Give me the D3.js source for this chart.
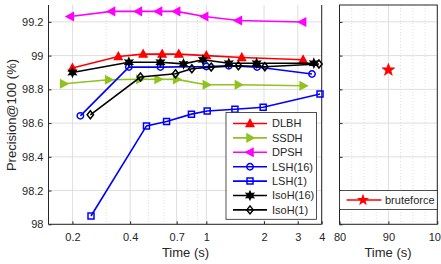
<!DOCTYPE html>
<html><head><meta charset="utf-8">
<script src="https://cdn.jsdelivr.net/npm/d3@7"></script>
<style>
html,body{margin:0;padding:0;background:#fff;}
svg{display:block;font-family:"Liberation Sans",Arial,sans-serif;}
</style></head><body>
<svg id="c" width="441" height="264"></svg>
<script>
// ---- data ----
const dlbhT = [0.2, 0.347, 0.468, 0.588, 0.718, 1.0, 1.53, 3.2];
const dlbhV = [98.926, 98.995, 99.009, 99.009, 99.009, 99.0, 98.989, 98.975];
const ssdhT = [0.18, 0.309, 0.45, 0.56, 0.70, 1.0, 1.47, 3.2];
const ssdhV = [98.833, 98.857, 98.86, 98.86, 98.859, 98.827, 98.827, 98.821];
const dpshT = [0.195, 0.32, 0.442, 0.563, 0.70, 0.98, 1.47, 3.18];
const dpshV = [99.232, 99.262, 99.262, 99.262, 99.262, 99.232, 99.208, 99.199];
const lsh16T = [0.22, 0.394, 0.576, 1.0, 1.31, 1.84, 3.56];
const lsh16V = [98.643, 98.932, 98.932, 98.935, 98.94, 98.932, 98.891];
const lsh1T = [0.25, 0.487, 0.62, 0.836, 1.01, 1.41, 1.98, 3.92];
const lsh1V = [98.049, 98.583, 98.609, 98.653, 98.672, 98.682, 98.694, 98.772];
const iso16T = [0.2, 0.394, 0.576, 0.76, 0.96, 1.31, 1.83, 3.64];
const iso16V = [98.9, 98.961, 98.961, 98.951, 98.975, 98.955, 98.955, 98.955];
const iso1T = [0.248, 0.453, 0.69, 0.84, 1.06, 1.47, 2.02, 3.87];
const iso1V = [98.649, 98.873, 98.892, 98.922, 98.932, 98.94, 98.934, 98.95];
const bruteT = [90];
const bruteV = [98.915];
const seriesNames = ["DLBH","SSDH","DPSH","LSH(16)","LSH(1)","IsoH(16)","IsoH(1)"];
const xTicksL = [0.2, 0.4, 0.7, 1, 2, 3, 4];
const xTicksR = [80, 90, 100];
const yTicks = [98, 98.2, 98.4, 98.6, 98.8, 99, 99.2];

// ---- styles ----
const series = [
  {name:"DLBH", t:dlbhT, v:dlbhV, color:"#ff0000", marker:"triUp", fill:true},
  {name:"SSDH", t:ssdhT, v:ssdhV, color:"#8fc31f", marker:"triRight", fill:true},
  {name:"DPSH", t:dpshT, v:dpshV, color:"#ff00ff", marker:"triLeft", fill:true},
  {name:"LSH(16)", t:lsh16T, v:lsh16V, color:"#0000ff", marker:"circle", fill:false},
  {name:"LSH(1)", t:lsh1T, v:lsh1V, color:"#0000ff", marker:"square", fill:false},
  {name:"IsoH(16)", t:iso16T, v:iso16V, color:"#000000", marker:"hex", fill:true},
  {name:"IsoH(1)", t:iso1T, v:iso1V, color:"#000000", marker:"diamond", fill:false}
];

const svg = d3.select("#c");
const txt = "#262626", axc = "#262626", gridc = "#dedede";

const L = {l:48.5, r:321.7, t:5, b:224.3};
const R = {l:339.5, r:437.3, t:5, b:224.3};
const x = d3.scaleLog().domain([0.15, 4]).range([L.l, L.r]);
const xr = d3.scaleLinear().domain([80, 100]).range([R.l, R.r]);
const y = d3.scaleLinear().domain([98, 99.3]).range([L.b, L.t]);

function markerPath(type, s){
  if(type==="triUp"){ return `M0,${-s}L${s*0.95},${s*0.75}L${-s*0.95},${s*0.75}Z`; }
  if(type==="triRight"){ return `M${s},0L${-s*0.75},${s*0.95}L${-s*0.75},${-s*0.95}Z`; }
  if(type==="triLeft"){ return `M${-s},0L${s*0.75},${s*0.95}L${s*0.75},${-s*0.95}Z`; }
  if(type==="circle"){ const r=s*0.8; return `M${r},0A${r},${r} 0 1,1 ${-r},0A${r},${r} 0 1,1 ${r},0Z`; }
  if(type==="square"){ const h=s*0.75; return `M${-h},${-h}H${h}V${h}H${-h}Z`; }
  if(type==="diamond"){ return `M0,${-s}L${s*0.8},0L0,${s}L${-s*0.8},0Z`; }
  if(type==="hex"){
    let p=""; for(let i=0;i<12;i++){ const a=Math.PI/6*i - Math.PI/2; const r = i%2===0 ? s : s*0.5; p += (i?"L":"M")+(r*Math.cos(a)).toFixed(2)+","+(r*Math.sin(a)).toFixed(2);} return p+"Z";
  }
  if(type==="star5"){
    let p=""; for(let i=0;i<10;i++){ const a=Math.PI/5*i - Math.PI/2; const r = i%2===0 ? s : s*0.4; p += (i?"L":"M")+(r*Math.cos(a)).toFixed(2)+","+(r*Math.sin(a)).toFixed(2);} return p+"Z";
  }
}

// ---- grids ----
function minorLog(){
  const out=[]; [0.1,1].forEach(d=>{ for(let k=1;k<10;k++){ const v=d*k; if(v>0.15 && v<4 && !xTicksL.includes(+v.toFixed(3))) out.push(v);} });
  return out;
}
const gL = svg.append("g");
gL.selectAll(".mg").data(minorLog()).enter().append("line")
  .attr("x1",d=>x(d)).attr("x2",d=>x(d)).attr("y1",L.t).attr("y2",L.b)
  .attr("stroke",gridc).attr("stroke-dasharray","1,2").attr("stroke-width",1);
gL.selectAll(".xg").data(xTicksL).enter().append("line")
  .attr("x1",d=>x(d)).attr("x2",d=>x(d)).attr("y1",L.t).attr("y2",L.b)
  .attr("stroke",gridc).attr("stroke-width",1);
gL.selectAll(".yg").data(yTicks).enter().append("line")
  .attr("x1",L.l).attr("x2",L.r).attr("y1",d=>y(d)).attr("y2",d=>y(d))
  .attr("stroke",gridc).attr("stroke-width",1);

const gR = svg.append("g");
gR.selectAll(".mg").data([82.5,85,87.5,92.5,95,97.5]).enter().append("line")
  .attr("x1",d=>xr(d)).attr("x2",d=>xr(d)).attr("y1",R.t).attr("y2",R.b)
  .attr("stroke",gridc).attr("stroke-dasharray","1,2");
gR.selectAll(".xg").data(xTicksR).enter().append("line")
  .attr("x1",d=>xr(d)).attr("x2",d=>xr(d)).attr("y1",R.t).attr("y2",R.b)
  .attr("stroke",gridc);
gR.selectAll(".yg").data(yTicks).enter().append("line")
  .attr("x1",R.l).attr("x2",R.r).attr("y1",d=>y(d)).attr("y2",d=>y(d))
  .attr("stroke",gridc);

// ---- axes ----
const axL = svg.append("g").attr("transform",`translate(0,${L.b})`)
  .call(d3.axisBottom(x).tickValues(xTicksL).tickSize(-3).tickPadding(9).tickFormat(d=>String(d)));
const axLy = svg.append("g").attr("transform",`translate(${L.l},0)`)
  .call(d3.axisLeft(y).tickValues(yTicks).tickSize(-3).tickPadding(5).tickFormat(d=>String(+d.toFixed(1))));
const axR = svg.append("g").attr("transform",`translate(0,${R.b})`)
  .call(d3.axisBottom(xr).tickValues(xTicksR).tickSize(-3).tickPadding(9).tickFormat(d=>String(d)));
const axRy = svg.append("g").attr("transform",`translate(${R.l},0)`)
  .call(d3.axisLeft(y).tickValues(yTicks).tickSize(-3).tickFormat(""));
[axL,axLy,axR,axRy].forEach(a=>{
  a.select(".domain").remove();
  a.selectAll("line").attr("stroke",axc);
  a.selectAll("text").attr("fill",txt).style("font-size","11px").style("font-family","'Liberation Sans',Arial,sans-serif");
});
// frames
svg.append("line").attr("x1",L.l).attr("x2",L.l).attr("y1",L.t).attr("y2",L.b).attr("stroke",axc);
svg.append("line").attr("x1",L.l).attr("x2",L.r).attr("y1",L.b).attr("y2",L.b).attr("stroke",axc);
svg.append("line").attr("x1",L.r).attr("x2",L.r).attr("y1",L.t).attr("y2",L.b).attr("stroke",axc);
svg.append("rect").attr("x",R.l).attr("y",R.t).attr("width",R.r-R.l).attr("height",R.b-R.t)
  .attr("fill","none").attr("stroke",axc);

// ---- lines & markers ----
const line = d3.line().x(d=>x(d[0])).y(d=>y(d[1]));
series.forEach(s=>{
  const pts = s.t.map((t,i)=>[t,s.v[i]]);
  const g = svg.append("g");
  g.append("path").datum(pts).attr("d",line).attr("fill","none")
    .attr("stroke",s.color).attr("stroke-width",1.6);
  g.selectAll("path.m").data(pts).enter().append("path").attr("class","m")
    .attr("transform",d=>`translate(${x(d[0])},${y(d[1])})`)
    .attr("d",markerPath(s.marker,4))
    .attr("fill",s.fill? s.color : "none").attr("stroke",s.color).attr("stroke-width",1.5);
});
// bruteforce
svg.selectAll("path.bf").data(bruteT.map((t,i)=>[t,bruteV[i]])).enter().append("path")
  .attr("transform",d=>`translate(${xr(d[0])},${y(d[1])})`)
  .attr("d",markerPath("star5",6.5)).attr("fill","#ff0000").attr("stroke","#ff0000").attr("stroke-width",0.8);

// ---- legend left ----
const lg = svg.append("g");
lg.append("rect").attr("x",226).attr("y",112.5).attr("width",90.5).attr("height",106.8)
  .attr("fill","#fff").attr("stroke",axc).attr("stroke-width",0.8);
series.forEach((s,i)=>{
  const yy = 123.5 + i*14.4;
  lg.append("line").attr("x1",233).attr("x2",267).attr("y1",yy).attr("y2",yy)
    .attr("stroke",s.color).attr("stroke-width",1.6);
  lg.append("path").attr("transform",`translate(250,${yy})`).attr("d",markerPath(s.marker,4))
    .attr("fill",s.fill? s.color:"none").attr("stroke",s.color).attr("stroke-width",1.5);
  lg.append("text").attr("x",272).attr("y",yy).attr("dy","0.36em").attr("fill",txt)
    .style("font-size","11px").text(s.name);
});
// ---- legend right ----
const lr = svg.append("g");
lr.append("rect").attr("x",R.l).attr("y",190.5).attr("width",R.r-R.l).attr("height",19)
  .attr("fill","#fff").attr("stroke",axc).attr("stroke-width",0.8);
lr.append("line").attr("x1",346.5).attr("x2",381.5).attr("y1",200).attr("y2",200).attr("stroke","#ff0000").attr("stroke-width",1.6);
lr.append("path").attr("transform","translate(363,200)").attr("d",markerPath("star5",6.5)).attr("fill","#ff0000");
lr.append("text").attr("x",385).attr("y",200).attr("dy","0.36em").attr("fill",txt).style("font-size","11px").text("bruteforce");

// ---- axis titles ----
svg.append("text").attr("x",185.5).attr("y",257).attr("text-anchor","middle").attr("fill",txt)
  .style("font-size","13px").text("Time (s)");
svg.append("text").attr("x",388).attr("y",257).attr("text-anchor","middle").attr("fill",txt)
  .style("font-size","13px").text("Time (s)");
svg.append("text").attr("transform","translate(16,115) rotate(-90)").attr("text-anchor","middle").attr("fill",txt)
  .style("font-size","13px").text("Precision@100 (%)");
</script>
</body></html>
